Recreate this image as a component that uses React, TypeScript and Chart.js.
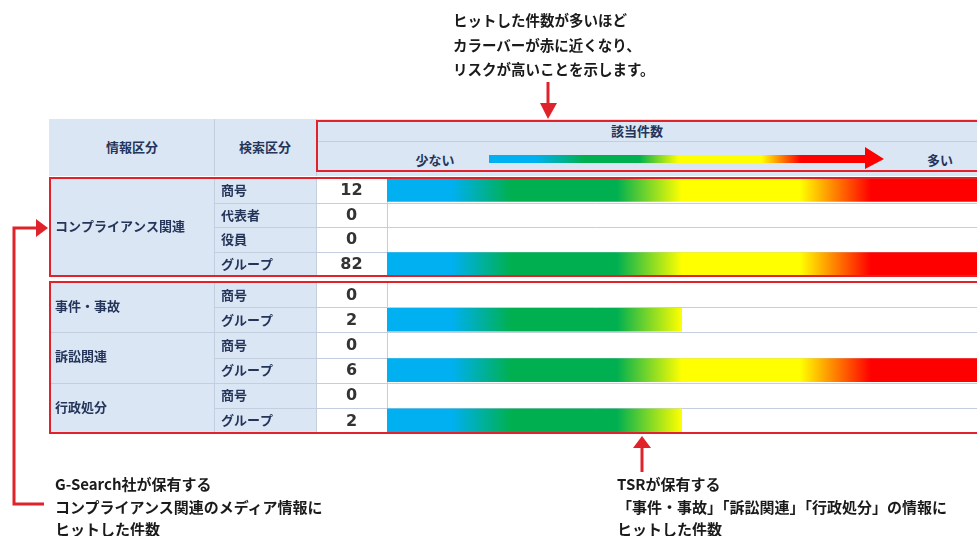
import React, { useEffect, useRef } from "react";
import { Chart, registerables } from "chart.js";

Chart.register(...registerables);

// ---------- data ----------
const complianceGroups = ["コンプライアンス関連"];
const complianceSpans = [4];
const complianceRows = ["商号", "代表者", "役員", "グループ"];
const complianceCounts = [12, 0, 0, 82];

const tsrGroups = ["事件・事故", "訴訟関連", "行政処分"];
const tsrSpans = [2, 2, 2];
const tsrRows = ["商号", "グループ", "商号", "グループ", "商号", "グループ"];
const tsrCounts = [0, 2, 0, 6, 0, 2];

const scaleMax = 4;

const headerLabels = ["情報区分", "検索区分", "該当件数"];
const legendLow = "少ない";
const legendHigh = "多い";
const topNote = ["ヒットした件数が多いほど", "カラーバーが赤に近くなり、", "リスクが高いことを示します。"];
const leftNote = ["G-Search社が保有する", "コンプライアンス関連のメディア情報に", "ヒットした件数"];
const rightNote = ["TSRが保有する", "「事件・事故」「訴訟関連」「行政処分」の情報に", "ヒットした件数"];

// ---------- styles ----------
const FONT_JP = '"Noto Sans CJK JP", "Noto Sans", sans-serif';
const CELL_BG = "#dbe6f4";
const LINE = "#c3cede";
const LABEL = "#25355a";
const RED = "#e0222a";
const COL2_X = 165; // relative to table left (49)
const COL3_X = 267;
const BAR_X = 338;
const TABLE_LEFT = 49;

const gradStops: [number, string][] = [
  [0, "#00b0f0"],
  [0.11, "#00b0f0"],
  [0.21, "#00b050"],
  [0.39, "#00b050"],
  [0.5, "#ffff00"],
  [0.7, "#ffff00"],
  [0.82, "#ff0000"],
  [1, "#ff0000"],
];

function gradientFill(c: any) {
  const chart = c.chart;
  const ca = chart.chartArea;
  if (!ca) return "#00b0f0";
  const g = chart.ctx.createLinearGradient(ca.left, 0, ca.right, 0);
  gradStops.forEach(([o, col]) => g.addColorStop(o, col));
  return g;
}

const tablePlugin = {
  id: "tableCells",
  beforeDatasetsDraw(chart: any, _a: any, opts: any) {
    const { ctx, chartArea: ca } = chart;
    const n = opts.rows.length;
    const rh = ca.height / n;
    ctx.save();
    ctx.fillStyle = CELL_BG;
    ctx.fillRect(0, ca.top, COL3_X, ca.height);
    ctx.fillStyle = "#ffffff";
    ctx.fillRect(COL3_X, ca.top, chart.width - COL3_X, ca.height);
    const bounds = new Set<number>();
    let acc = 0;
    opts.spans.forEach((s: number) => {
      acc += s;
      bounds.add(acc);
    });
    ctx.lineWidth = 1;
    ctx.strokeStyle = LINE;
    for (let i = 1; i < n; i++) {
      const y = Math.round(ca.top + i * rh) + 0.5;
      ctx.beginPath();
      ctx.moveTo(bounds.has(i) ? 0 : COL2_X, y);
      ctx.lineTo(chart.width, y);
      ctx.stroke();
    }
    [COL2_X, COL3_X, BAR_X].forEach((x) => {
      ctx.beginPath();
      ctx.moveTo(x + 0.5, ca.top);
      ctx.lineTo(x + 0.5, ca.bottom);
      ctx.stroke();
    });
    ctx.restore();
  },
  afterDatasetsDraw(chart: any, _a: any, opts: any) {
    const { ctx, chartArea: ca } = chart;
    const n = opts.rows.length;
    const rh = ca.height / n;
    ctx.save();
    ctx.textBaseline = "middle";
    ctx.fillStyle = LABEL;
    ctx.font = `bold 13px ${FONT_JP}`;
    ctx.textAlign = "left";
    let start = 0;
    opts.groups.forEach((g: string, gi: number) => {
      const span = opts.spans[gi];
      const yc = ca.top + (start + span / 2) * rh - 1;
      ctx.fillText(g, 6, yc);
      start += span;
    });
    opts.rows.forEach((r: string, i: number) => {
      ctx.fillText(r, 172, ca.top + (i + 0.5) * rh);
    });
    ctx.fillStyle = "#333333";
    ctx.font = `bold 16px "DejaVu Sans", sans-serif`;
    ctx.textAlign = "center";
    opts.counts.forEach((v: number, i: number) => {
      ctx.fillText(String(v), (COL3_X + BAR_X) / 2, ca.top + (i + 0.5) * rh + 1);
    });
    ctx.restore();
  },
};

function makeChart(canvas: HTMLCanvasElement, groups: string[], spans: number[], rows: string[], counts: number[]) {
  return new Chart(canvas, {
    type: "bar",
    data: {
      labels: rows,
      datasets: [
        {
          data: counts,
          backgroundColor: gradientFill as any,
          borderWidth: 0,
          barPercentage: 0.94,
          categoryPercentage: 1,
        },
      ],
    },
    options: {
      indexAxis: "y",
      responsive: false,
      maintainAspectRatio: false,
      animation: false,
      events: [],
      layout: { padding: { left: BAR_X, right: 0, top: 0, bottom: 0 } },
      scales: {
        x: { display: false, min: 0, max: scaleMax },
        y: { display: false },
      },
      plugins: {
        legend: { display: false },
        tooltip: { enabled: false },
        tableCells: { groups, spans, rows, counts },
      } as any,
    },
    plugins: [tablePlugin as any],
  });
}

const abs = (o: React.CSSProperties): React.CSSProperties => ({ position: "absolute", ...o });

const centerText = (text: string, cx: number, cy: number, size = 13): React.ReactElement => (
  <div
    key={text}
    style={abs({
      left: cx - 100,
      top: cy - 10,
      width: 200,
      height: 20,
      lineHeight: "20px",
      textAlign: "center",
      font: `bold ${size}px ${FONT_JP}`,
      color: LABEL,
      whiteSpace: "nowrap",
    })}
  >
    {text}
  </div>
);

const noteBlock = (lines: string[], left: number, top: number, size: number, lh: number) => (
  <div
    style={abs({
      left,
      top,
      font: `bold ${size}px ${FONT_JP}`,
      lineHeight: `${lh}px`,
      color: "#1a1a1a",
      whiteSpace: "nowrap",
    })}
  >
    {lines.map((l) => (
      <div key={l}>{l}</div>
    ))}
  </div>
);

export default function App() {
  const ref1 = useRef<HTMLCanvasElement>(null);
  const ref2 = useRef<HTMLCanvasElement>(null);

  useEffect(() => {
    const c1 = makeChart(ref1.current!, complianceGroups, complianceSpans, complianceRows, complianceCounts);
    const c2 = makeChart(ref2.current!, tsrGroups, tsrSpans, tsrRows, tsrCounts);
    return () => {
      c1.destroy();
      c2.destroy();
    };
  }, []);

  return (
    <div style={abs({ left: 0, top: 0, width: 977, height: 536, background: "#fff", overflow: "hidden" })}>
      {/* header */}
      <div style={abs({ left: TABLE_LEFT, top: 119, width: 940, height: 57, background: CELL_BG })} />
      <div style={abs({ left: TABLE_LEFT + COL2_X, top: 119, width: 1, height: 57, background: LINE })} />
      <div style={abs({ left: TABLE_LEFT + COL3_X, top: 119, width: 1, height: 57, background: LINE })} />
      <div style={abs({ left: TABLE_LEFT + COL3_X, top: 141, width: 700, height: 1, background: LINE })} />
      {centerText(headerLabels[0], 132, 147)}
      {centerText(headerLabels[1], 265, 147)}
      {centerText(headerLabels[2], 637, 131)}
      {centerText(legendLow, 435, 160)}
      {centerText(legendHigh, 940, 160)}
      <svg style={abs({ left: 489, top: 146, overflow: "visible" })} width={400} height={24}>
        <defs>
          <linearGradient id="lg" x1="0" x2="1" y1="0" y2="0">
            <stop offset="0" stopColor="#00b0f0" />
            <stop offset="0.12" stopColor="#00b0f0" />
            <stop offset="0.24" stopColor="#00b050" />
            <stop offset="0.38" stopColor="#00b050" />
            <stop offset="0.48" stopColor="#ffff00" />
            <stop offset="0.69" stopColor="#ffff00" />
            <stop offset="0.79" stopColor="#ff0000" />
            <stop offset="1" stopColor="#ff0000" />
          </linearGradient>
        </defs>
        <polygon points="0,9 376,9 376,1 395,13 376,23 376,17 0,17" fill="url(#lg)" />
      </svg>

      {/* tables */}
      <canvas ref={ref1} width={928} height={98} style={abs({ left: TABLE_LEFT, top: 178 })} />
      <canvas ref={ref2} width={928} height={151} style={abs({ left: TABLE_LEFT, top: 282 })} />

      {/* red boxes */}
      <div style={abs({ left: TABLE_LEFT + COL3_X, top: 120, width: 700, height: 52, border: `2px solid ${RED}`, boxSizing: "border-box" })} />
      <div style={abs({ left: TABLE_LEFT, top: 177, width: 960, height: 100, border: `2px solid ${RED}`, boxSizing: "border-box" })} />
      <div style={abs({ left: TABLE_LEFT, top: 281, width: 960, height: 153, border: `2px solid ${RED}`, boxSizing: "border-box" })} />

      {/* arrows */}
      <svg style={abs({ left: 0, top: 0 })} width={977} height={536}>
        <line x1={548} y1={82} x2={548} y2={104} stroke={RED} strokeWidth={3} />
        <polygon points="540,103 557,103 548,119" fill={RED} />
        <polyline points="44,504 14,504 14,228 37,228" fill="none" stroke={RED} strokeWidth={3} />
        <polygon points="36,219 36,237 48,228" fill={RED} />
        <line x1={642} y1={472} x2={642} y2={446} stroke={RED} strokeWidth={3} />
        <polygon points="633,448 651,448 642,436" fill={RED} />
      </svg>

      {/* notes */}
      {noteBlock(topNote, 453, 8, 14.5, 24.5)}
      {noteBlock(leftNote, 55, 473, 15, 22.5)}
      {noteBlock(rightNote, 617, 473, 15, 22.5)}
    </div>
  );
}
